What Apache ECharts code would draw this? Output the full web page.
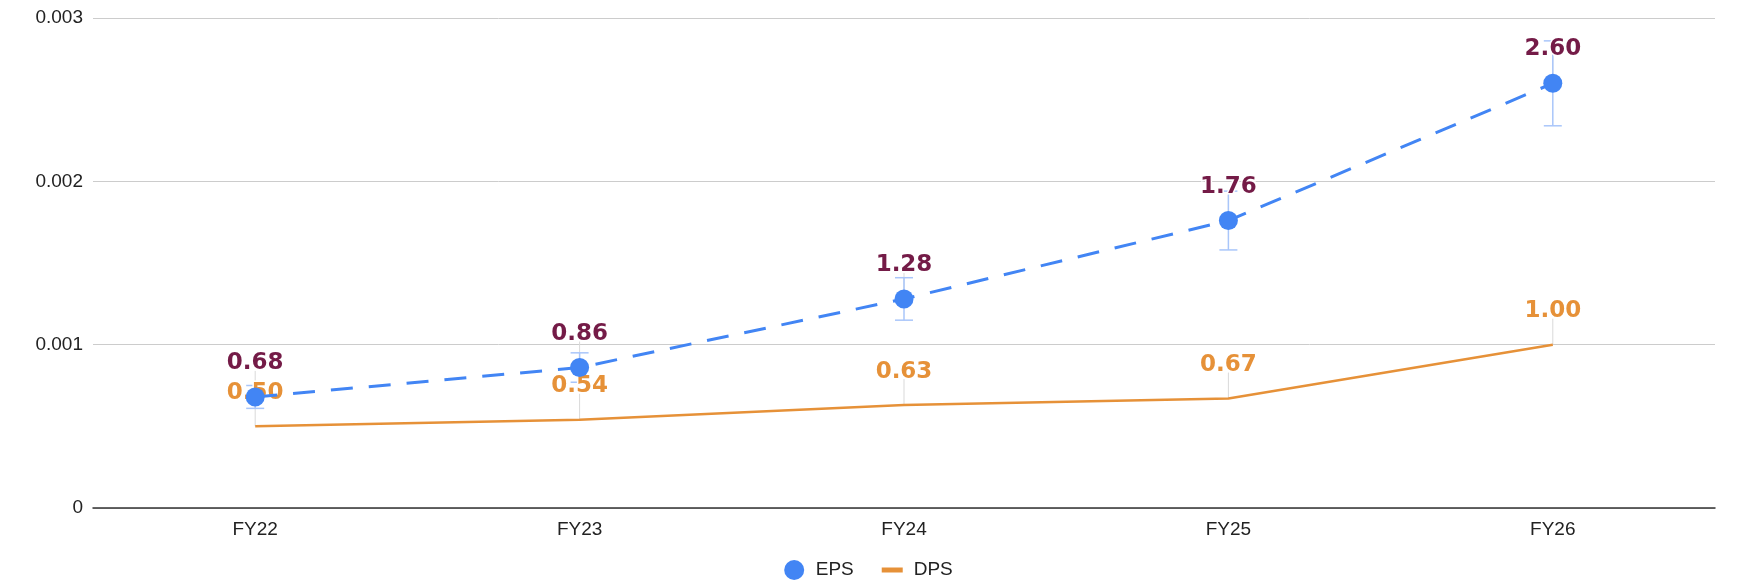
<!DOCTYPE html>
<html>
<head>
<meta charset="utf-8">
<style>
  html, body { margin: 0; padding: 0; background: #fff; }
  #chart { width: 1737px; height: 581px; }
</style>
<script src="https://cdn.jsdelivr.net/npm/echarts@6/dist/echarts.min.js"></script>
</head>
<body>
<div id="chart"></div>
<script>
// Fiscal years shown on the category axis
const categories = ['FY22', 'FY23', 'FY24', 'FY25', 'FY26'];
// Earnings per share and dividend per share (label units)
const eps = [0.68, 0.86, 1.28, 1.76, 2.60];
const dps = [0.50, 0.54, 0.63, 0.67, 1.00];
// EPS error-bar ranges [low, high]
const epsLow = [0.61, 0.77, 1.15, 1.58, 2.34];
const epsHigh = [0.75, 0.95, 1.41, 1.94, 2.86];
// Value-axis ticks (axis labels are shown in thousands)
const yTicks = [0, 1, 2, 3];

const BLUE = '#4285f4';
const ORANGE = '#e69138';
const MAROON = '#741b47';
const ERR = '#a9c6fa';
const STEM = '#d9d9d9';

const chart = echarts.init(document.getElementById('chart'));

const labelFont = {
  fontFamily: 'DejaVu Sans',
  fontWeight: 'bold',
  fontSize: 23,
  textBorderColor: '#fff',
  textBorderWidth: 3
};

const axisFont = { fontFamily: 'Liberation Sans', fontSize: 19, color: '#222' };

function stemItem(params, api) {
  const p = api.coord([api.value(0), api.value(1)]);
  return {
    type: 'line',
    shape: { x1: p[0], y1: p[1], x2: p[0], y2: p[1] - 26 },
    style: { stroke: STEM, lineWidth: 1 },
    silent: true
  };
}

chart.setOption({
  animation: false,
  backgroundColor: '#fff',
  grid: { left: 93, right: 22, top: 18, bottom: 73 },
  legend: {
    top: 555,
    left: 'center',
    itemGap: 28,
    itemWidth: 21,
    itemHeight: 20,
    textStyle: Object.assign({ padding: [0, 0, 0, 6] }, axisFont),
    data: [
      { name: 'EPS', icon: 'circle' },
      { name: 'DPS', icon: 'path://M0,0h21v5h-21z' }
    ]
  },
  xAxis: {
    type: 'category',
    data: categories,
    boundaryGap: true,
    axisLine: { lineStyle: { color: '#333', width: 1.5 } },
    axisTick: { show: false },
    axisLabel: Object.assign({ margin: 12 }, axisFont)
  },
  yAxis: {
    type: 'value',
    min: yTicks[0],
    max: yTicks[yTicks.length - 1],
    interval: 1,
    axisLine: { show: false },
    axisTick: { show: false },
    splitLine: { lineStyle: { color: '#cccccc', width: 1 } },
    axisLabel: Object.assign({
      margin: 10,
      formatter: v => v === 0 ? '0' : (v / 1000).toFixed(3)
    }, axisFont)
  },
  series: [
    {
      name: 'DPS stems',
      type: 'custom',
      renderItem: stemItem,
      data: dps.map((v, i) => [i, v]),
      z: 1
    },
    {
      name: 'EPS stems',
      type: 'custom',
      renderItem: stemItem,
      data: eps.map((v, i) => [i, v]),
      z: 1
    },
    {
      name: 'EPS range',
      type: 'custom',
      z: 2,
      data: epsLow.map((lo, i) => [i, lo, epsHigh[i]]),
      renderItem: (params, api) => {
        const lo = api.coord([api.value(0), api.value(1)]);
        const hi = api.coord([api.value(0), api.value(2)]);
        const w = 9;
        const style = { stroke: ERR, lineWidth: 1.5 };
        return {
          type: 'group',
          children: [
            { type: 'line', shape: { x1: lo[0], y1: lo[1], x2: hi[0], y2: hi[1] }, style },
            { type: 'line', shape: { x1: lo[0] - w, y1: lo[1], x2: lo[0] + w, y2: lo[1] }, style },
            { type: 'line', shape: { x1: hi[0] - w, y1: hi[1], x2: hi[0] + w, y2: hi[1] }, style }
          ]
        };
      }
    },
    {
      name: 'DPS',
      type: 'line',
      data: dps,
      symbol: 'circle',
      symbolSize: 0,
      itemStyle: { color: ORANGE },
      lineStyle: { color: ORANGE, width: 2.5 },
      z: 3,
      label: Object.assign({
        show: true,
        position: 'top',
        distance: 22,
        color: ORANGE,
        formatter: p => p.value.toFixed(2)
      }, labelFont)
    },
    {
      name: 'EPS',
      type: 'line',
      data: eps,
      symbol: 'circle',
      symbolSize: 19,
      itemStyle: { color: BLUE },
      lineStyle: { color: BLUE, width: 3, type: [22, 16] },
      z: 4,
      label: Object.assign({
        show: true,
        position: 'top',
        distance: 13,
        color: MAROON,
        formatter: p => p.value.toFixed(2)
      }, labelFont)
    }
  ]
});
</script>
</body>
</html>
